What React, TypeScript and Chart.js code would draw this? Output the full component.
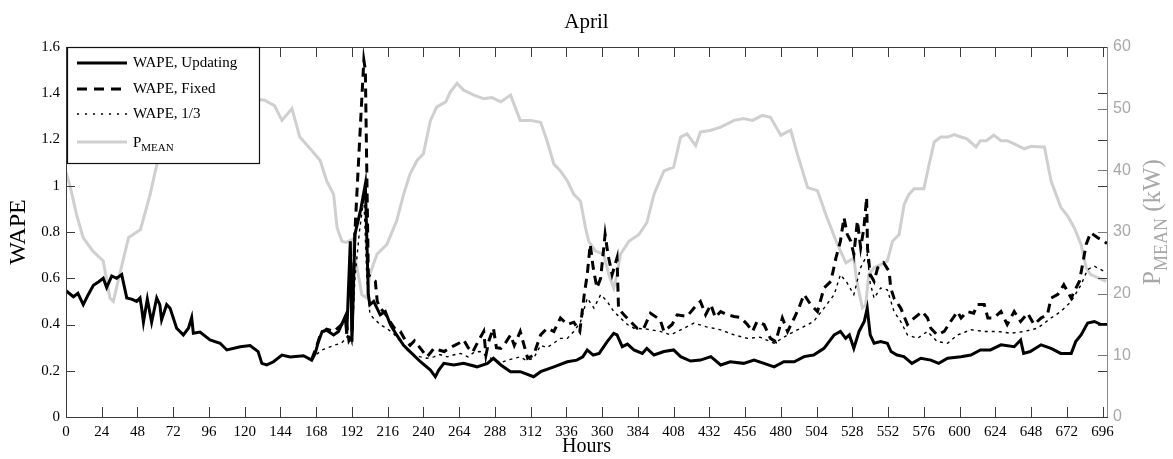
import { useEffect, useRef } from "react";
import { Chart, registerables } from "chart.js";

Chart.register(...registerables);

const chartTitle = "April";
const xAxisTitle = "Hours";
const yAxisTitle = "WAPE";
const legendLabels = ["WAPE, Updating", "WAPE, Fixed", "WAPE, 1/3"];

const xMax = 699;
const xStep = 24;
const yLeftMax = 1.6;
const yLeftStep = 0.2;
const yRightMax = 60;
const yRightStep = 10;

const updHours = [0,5,8,11.6,15,18.4,22,25,27.3,30.7,34,37.4,40.8,44,47.5,49.7,50.8,52,54.6,57.5,60.9,63,64.2,67.6,69.9,74.3,78.8,82.2,84.4,85.5,90,96.7,103.5,108,117,123.6,129,131.5,134.8,139.3,145,150.5,159.5,165,167.3,169.5,172,175,179.7,183,187.5,188.5,190.9,192,194,198,201,203,204,206.6,211,214.4,217.8,222,226.7,231,238,244.7,248,250.3,253.7,260.4,267,276,283,287,292,298.5,305,314,318.7,327.6,336.6,343,347,350,354,358,363.4,367.8,370,373.5,377,381.3,387,390,394.8,401.5,408,412.7,419.4,426,433,439.6,446,455,462,468.7,475.5,482,489,495.6,502,509,515.8,520,523.5,526,529,532.5,536,538,540,542.6,547,551.5,554,558,562.6,568,574,580.7,586,592,601,607.6,614,620.7,627.8,636.7,641,643,647.5,654.7,661.4,668,675,678,681.6,686,690.5,695,699];
const updWape = [0.546,0.52,0.535,0.486,0.53,0.57,0.585,0.6,0.56,0.61,0.6,0.616,0.515,0.51,0.5,0.515,0.47,0.41,0.51,0.41,0.515,0.486,0.42,0.486,0.47,0.384,0.355,0.384,0.43,0.362,0.367,0.333,0.319,0.29,0.304,0.309,0.283,0.232,0.225,0.239,0.268,0.26,0.265,0.246,0.275,0.326,0.37,0.375,0.355,0.37,0.435,0.36,0.76,0.326,0.79,0.9,1.007,0.53,0.485,0.5,0.442,0.456,0.4,0.355,0.31,0.283,0.239,0.203,0.174,0.203,0.232,0.225,0.232,0.217,0.232,0.254,0.225,0.196,0.196,0.174,0.196,0.217,0.239,0.246,0.26,0.29,0.268,0.275,0.326,0.362,0.355,0.304,0.315,0.29,0.275,0.297,0.268,0.283,0.29,0.261,0.242,0.246,0.261,0.225,0.239,0.232,0.246,0.232,0.217,0.239,0.239,0.261,0.268,0.297,0.355,0.37,0.34,0.355,0.297,0.37,0.413,0.471,0.355,0.319,0.326,0.319,0.283,0.268,0.261,0.232,0.254,0.246,0.232,0.254,0.261,0.268,0.29,0.29,0.312,0.304,0.333,0.275,0.283,0.312,0.297,0.275,0.275,0.326,0.355,0.406,0.413,0.4,0.4];

const fixHours = [165,168,171,175,180,185,188,190,192,194,196,198,200,201,202,203,205,207.7,209,211,214,217.8,221,224.5,228,231,234,238,242.4,245,247,250,254,258,261,264,267,270,273,277,280.5,282,284,287,289,292,295,298.5,301,305,308,310,314,318.7,323,327.6,332,336.6,341,345,348,350,352,354,356.5,359,362,364,366.7,370,371,374.6,379,383.5,388,392.5,399,401.5,407,410.4,417,421.7,426,429.5,433,436,439.6,444,448.6,453,457.5,461,464,468.7,473,476.5,481,484.5,489,492,495.6,500,504.6,509,513.6,517,520,522.4,524.6,527,529,531.4,533.6,535.8,537.6,538.2,540,542.6,545,549,552.7,553.8,556,560.5,565,569.5,575,578.5,580.7,585,589.7,594,598.6,601,605,609.5,612,616.6,619,623,627.8,632,636.7,641,645.7,650,654.7,659,661.4,666,670,675,677,680.5,683,685,688,692.8,697,699];
const fixWape = [0.25,0.3,0.36,0.38,0.37,0.4,0.42,0.33,0.35,0.8,1.05,1.3,1.543,1.5,1.05,0.616,0.6,0.587,0.5,0.47,0.45,0.41,0.38,0.37,0.33,0.31,0.33,0.297,0.26,0.28,0.297,0.29,0.283,0.3,0.31,0.32,0.333,0.3,0.28,0.33,0.37,0.268,0.33,0.384,0.3,0.297,0.32,0.355,0.31,0.37,0.3,0.254,0.268,0.355,0.384,0.37,0.428,0.4,0.41,0.37,0.53,0.616,0.746,0.645,0.558,0.6,0.79,0.7,0.616,0.688,0.47,0.442,0.413,0.384,0.384,0.449,0.42,0.37,0.4,0.442,0.435,0.471,0.5,0.442,0.486,0.43,0.456,0.442,0.435,0.43,0.4,0.37,0.413,0.4,0.34,0.326,0.428,0.37,0.428,0.47,0.53,0.486,0.456,0.558,0.587,0.688,0.76,0.862,0.79,0.76,0.703,0.848,0.732,0.819,0.949,0.73,0.616,0.587,0.645,0.667,0.63,0.558,0.514,0.471,0.4,0.428,0.456,0.428,0.384,0.355,0.37,0.413,0.456,0.428,0.456,0.449,0.486,0.486,0.428,0.428,0.456,0.4,0.456,0.413,0.449,0.4,0.428,0.442,0.514,0.53,0.572,0.514,0.543,0.587,0.674,0.746,0.797,0.775,0.76,0.75];

const thirdHours = [165,168,172,176,180,185,188,190,192,194,197,200,202,204,206,211,216,220,224.5,229,233.5,238,242.4,247,251,256,260,265,270,274,278,283,287,292,296,301,305,309,314,318.7,323,327.6,332,336.6,341,345.4,350,354.5,359,363.4,367.8,372,377,381.3,390,399,406,415,421.7,430,439.6,448.6,457.5,466,475.5,484.5,493.4,502,509,515.8,520,524.5,529,533.5,538,540,542.6,547,551.5,556,560.5,565,571.7,578.4,585,592,598.6,607.6,616.6,625.5,634.5,643.5,652.4,661.4,668,675,681.6,686,690.5,697,699];
const thirdWape = [0.25,0.27,0.29,0.3,0.31,0.32,0.34,0.36,0.32,0.6,0.8,0.95,0.6,0.45,0.43,0.4,0.38,0.36,0.326,0.29,0.268,0.26,0.254,0.26,0.27,0.26,0.268,0.275,0.26,0.28,0.283,0.26,0.25,0.235,0.245,0.254,0.26,0.245,0.254,0.31,0.3,0.32,0.34,0.34,0.37,0.41,0.514,0.471,0.529,0.5,0.456,0.43,0.4,0.384,0.38,0.37,0.355,0.384,0.406,0.39,0.377,0.355,0.34,0.345,0.319,0.355,0.384,0.413,0.471,0.529,0.616,0.58,0.529,0.645,0.703,0.58,0.514,0.558,0.55,0.456,0.413,0.355,0.34,0.37,0.326,0.319,0.355,0.377,0.37,0.37,0.362,0.37,0.384,0.428,0.456,0.5,0.572,0.638,0.652,0.63,0.63];

const pHours = [0,3,7,11.5,18,25,29.5,31.8,36,42,50,56.5,60,64,70,76,84,96,108,120,131.6,133,140,145,151.7,157,165,170.7,175,179.7,182,185.3,188,192,195.4,198.7,202,204,208.8,215.5,222,226.7,231,235.7,240,244.7,249,255,258,262.6,267,274,280.6,286,292,298.5,305,312,318.7,323,327.6,332,336.6,341,345.5,349,351,355.5,361,364.5,367.8,370,372.3,378,384.7,390,394.8,401.5,408,412.7,417,422.8,426,433,439.6,448.6,455,461,467.6,473,480,486.7,491,498,504.6,511,518,523.7,529,531,534.7,537,539,542.6,547,551.5,555,559.4,562.8,566,569.5,576,579.6,583,587.4,592,596.4,601,605,611,614,618,623,627.8,632,636.7,643.5,648,654.7,657,661.4,668,672.6,677,681.6,685,688,692.8,698.4];
const pMean = [39.7,37.2,32.9,29.1,26.9,25.3,19.3,18.75,23.1,29.1,30.4,36.1,39.9,44,48,50.5,51.5,51.5,51.8,52,51.4,51.4,50.5,48.1,50,45.4,43.2,41.6,38.3,36.1,30.7,28.5,28.3,28.8,24.2,19.8,19.3,23.1,26.4,28,31.8,36.1,39.4,41.6,42.7,48.1,50.3,51.1,52.7,54.1,53,52.2,51.6,51.8,51.1,52.2,48.1,48.1,47.8,44.8,41,39.9,38.3,36.1,35,30.5,28.5,26.9,26.4,23.1,20.9,23.1,26.4,28.5,29.6,31.5,36.1,39.9,40.5,45.4,45.9,44,46.2,46.5,47,48.1,48.4,48.1,48.9,48.6,45.7,46.5,42.7,37.2,36.7,32.3,28,25,25.8,22,17.7,18.2,23.1,24.2,24.7,25.3,28.5,29.6,34.5,36.1,37,37,41,44.6,45.4,45.4,45.8,45.4,45.1,43.8,44.8,44.8,45.7,44.8,44.8,44.3,43.5,43.9,43.8,43.8,38.3,34,32.6,30.7,28,24.2,23.1,22.6,22];

const SERIF = "'Liberation Serif', 'Times New Roman', serif";
const SANS = "'Liberation Sans', Arial, sans-serif";
const GRAY = "#cfcfcf";
const AXIS_GRAY = "#a8a8a8";

const toXY = (hs: number[], vs: number[]) => hs.map((h, i) => ({ x: h, y: vs[i] }));

function range(max: number, step: number) {
  const out: number[] = [];
  for (let v = 0; v <= max + 1e-9; v += step) out.push(Math.round(v * 1000) / 1000);
  return out;
}

function drawSubText(ctx: CanvasRenderingContext2D, x: number, y: number, main: number, sub: number, rest: string, color: string) {
  ctx.fillStyle = color;
  ctx.textBaseline = "alphabetic";
  ctx.textAlign = "left";
  ctx.font = `${main}px ${SERIF}`;
  ctx.fillText("P", x, y);
  let w = ctx.measureText("P").width;
  ctx.font = `${sub}px ${SERIF}`;
  ctx.fillText("MEAN", x + w, y + sub * 0.4);
  w += ctx.measureText("MEAN").width;
  if (rest) {
    ctx.font = `${main}px ${SERIF}`;
    ctx.fillText(rest, x + w, y);
    w += ctx.measureText(rest).width;
  }
  return w;
}

const decorPlugin = {
  id: "decor",
  afterDatasetsDraw(chart: any) {
    const { ctx, chartArea: a, scales } = chart;
    ctx.save();
    ctx.lineWidth = 1;
    ctx.strokeStyle = "#3a3a3a";
    ctx.beginPath();
    range(xMax, xStep).forEach((v) => {
      const px = Math.round(scales.x.getPixelForValue(v)) + 0.5;
      ctx.moveTo(px, a.bottom);
      ctx.lineTo(px, a.bottom - 10);
      ctx.moveTo(px, a.top);
      ctx.lineTo(px, a.top + 10);
    });
    range(yLeftMax, yLeftStep).forEach((v) => {
      const py = Math.round(scales.y.getPixelForValue(v)) + 0.5;
      ctx.moveTo(a.left, py);
      ctx.lineTo(a.left + 9, py);
      ctx.moveTo(a.right, py);
      ctx.lineTo(a.right - 9, py);
    });
    ctx.stroke();
    ctx.strokeStyle = "#777";
    ctx.beginPath();
    range(yRightMax, yRightStep).forEach((v) => {
      const py = Math.round(scales.y2.getPixelForValue(v)) + 0.5;
      ctx.moveTo(a.right, py);
      ctx.lineTo(a.right - 9, py);
    });
    ctx.stroke();
    ctx.strokeStyle = "#3a3a3a";
    ctx.strokeRect(Math.round(a.left) + 0.5, Math.round(a.top) + 0.5, Math.round(a.right - a.left), Math.round(a.bottom - a.top));
    ctx.strokeStyle = "#888";
    ctx.beginPath();
    ctx.moveTo(Math.round(a.right) + 0.5, a.top);
    ctx.lineTo(Math.round(a.right) + 0.5, a.bottom);
    ctx.stroke();

    const lx = a.left + 1, ly = a.top, lw = 192, lh = 116;
    ctx.fillStyle = "#fff";
    ctx.fillRect(lx, ly, lw, lh);
    ctx.strokeStyle = "#111";
    ctx.lineWidth = 1.2;
    ctx.strokeRect(lx + 0.5, ly + 0.5, lw, lh);
    const rows = [16, 42, 67, 95];
    const styles = [
      { w: 3, dash: [] as number[], c: "#000" },
      { w: 3, dash: [10, 7], c: "#000" },
      { w: 1.4, dash: [2, 6], c: "#000" },
      { w: 3, dash: [] as number[], c: GRAY },
    ];
    styles.forEach((s, i) => {
      ctx.beginPath();
      ctx.lineWidth = s.w;
      ctx.strokeStyle = s.c;
      ctx.setLineDash(s.dash);
      ctx.moveTo(lx + 10, ly + rows[i]);
      ctx.lineTo(lx + 60, ly + rows[i]);
      ctx.stroke();
    });
    ctx.setLineDash([]);
    ctx.fillStyle = "#000";
    ctx.font = `15px ${SERIF}`;
    ctx.textBaseline = "middle";
    ctx.textAlign = "left";
    legendLabels.forEach((t, i) => ctx.fillText(t, lx + 66, ly + rows[i]));
    drawSubText(ctx, lx + 66, ly + rows[3] + 5, 15, 11, "", "#000");
    ctx.restore();
  },
  afterDraw(chart: any) {
    const { ctx, chartArea: a } = chart;
    ctx.save();
    ctx.fillStyle = "#000";
    ctx.textAlign = "center";
    ctx.textBaseline = "middle";
    ctx.font = `21px ${SERIF}`;
    ctx.fillText(chartTitle, (a.left + a.right) / 2, 22);
    ctx.font = `20px ${SERIF}`;
    ctx.fillText(xAxisTitle, (a.left + a.right) / 2, 447);
    ctx.save();
    ctx.translate(19, (a.top + a.bottom) / 2);
    ctx.rotate(-Math.PI / 2);
    ctx.font = `24px ${SERIF}`;
    ctx.fillText(yAxisTitle, 0, 0);
    ctx.restore();
    ctx.save();
    ctx.font = `25px ${SERIF}`;
    const pW = ctx.measureText("P").width;
    const kW = ctx.measureText(" (kW)").width;
    ctx.font = `18px ${SERIF}`;
    const mW = ctx.measureText("MEAN").width;
    const total = pW + kW + mW;
    ctx.translate(1160, 222);
    ctx.rotate(-Math.PI / 2);
    drawSubText(ctx, -total / 2, 0, 25, 18, " (kW)", AXIS_GRAY);
    ctx.restore();
    ctx.restore();
  },
};

export default function App() {
  const ref = useRef<HTMLCanvasElement>(null);
  useEffect(() => {
    document.body.style.margin = "0";
    const canvas = ref.current!;
    const chart = new Chart(canvas, {
      type: "line",
      data: {
        datasets: [
          { label: legendLabels[0], data: toXY(updHours, updWape), borderColor: "#000", borderWidth: 3, yAxisID: "y", order: 1 },
          { label: legendLabels[1], data: toXY(fixHours, fixWape), borderColor: "#000", borderWidth: 3, borderDash: [9, 6], yAxisID: "y", order: 2 },
          { label: legendLabels[2], data: toXY(thirdHours, thirdWape), borderColor: "#000", borderWidth: 1.4, borderDash: [3, 4], yAxisID: "y", order: 3 },
          { label: "P MEAN", data: toXY(pHours, pMean), borderColor: GRAY, borderWidth: 3, yAxisID: "y2", order: 4 },
        ] as any,
      },
      options: {
        responsive: false,
        animation: false,
        devicePixelRatio: 1,
        parsing: false as any,
        elements: { point: { radius: 0 }, line: { tension: 0, borderCapStyle: "butt", borderJoinStyle: "miter" } },
        layout: { padding: { top: 47, left: 0, right: 0, bottom: 0 } },
        plugins: { legend: { display: false }, title: { display: false }, tooltip: { enabled: false } },
        scales: {
          x: {
            type: "linear",
            min: 0,
            max: xMax,
            grid: { display: false, drawTicks: false },
            border: { display: false },
            ticks: { stepSize: xStep, includeBounds: false, autoSkip: false, maxRotation: 0, padding: 6, color: "#000", font: { family: SERIF, size: 15 } },
            afterFit: (s: any) => { s.height = 42; },
          },
          y: {
            position: "left",
            min: 0,
            max: yLeftMax,
            grid: { display: false, drawTicks: false },
            border: { display: false },
            ticks: { stepSize: yLeftStep, padding: 6, color: "#000", font: { family: SERIF, size: 15 }, callback: (v: any) => String(Math.round(Number(v) * 10) / 10) },
            afterFit: (s: any) => { s.width = 66; },
          },
          y2: {
            position: "right",
            min: 0,
            max: yRightMax,
            grid: { display: false, drawTicks: false },
            border: { display: false },
            ticks: { stepSize: yRightStep, padding: 6, color: AXIS_GRAY, font: { family: SANS, size: 16 } },
            afterFit: (s: any) => { s.width = 66; },
          },
        },
      } as any,
      plugins: [decorPlugin],
    });
    return () => chart.destroy();
  }, []);
  return <canvas ref={ref} width={1173} height={459} style={{ display: "block", width: 1173, height: 459 }} />;
}
